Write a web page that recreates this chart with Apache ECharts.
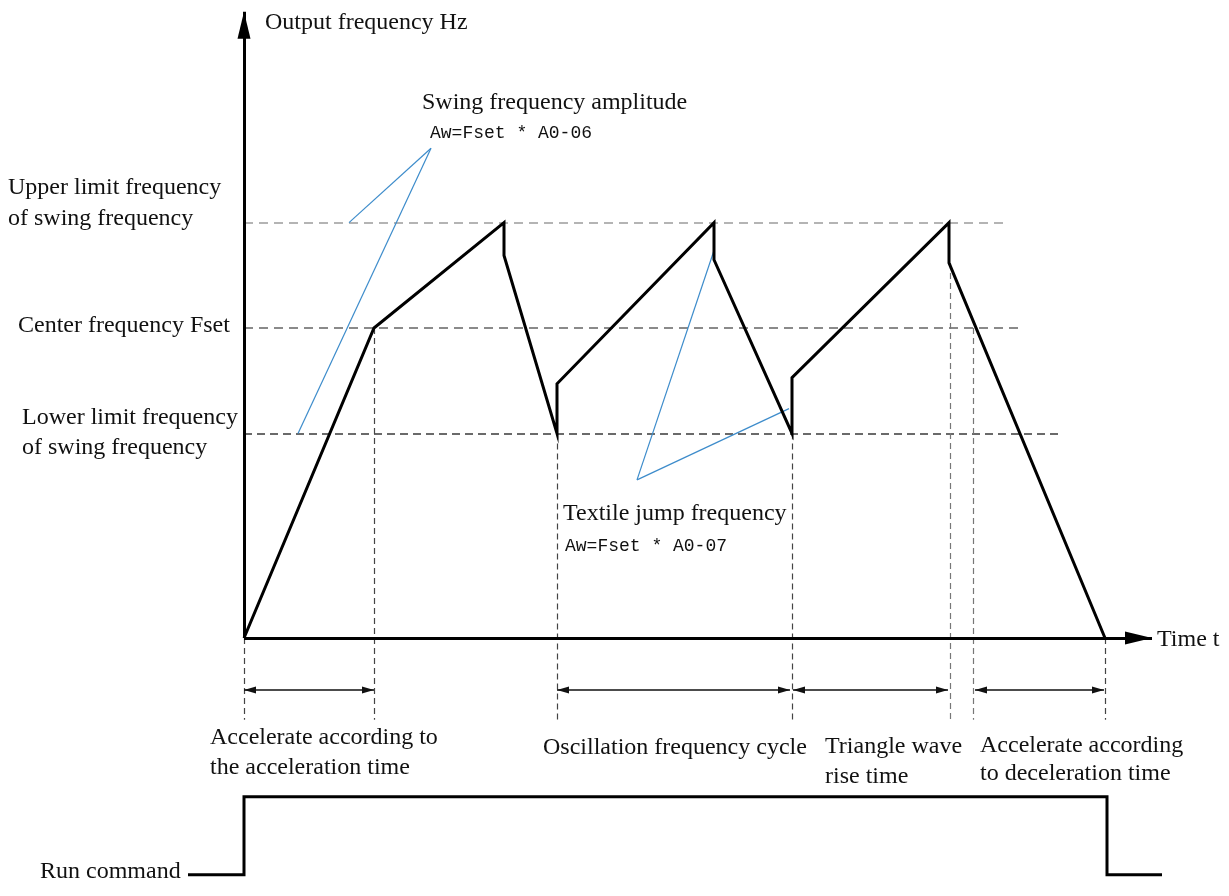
<!DOCTYPE html>
<html><head><meta charset="utf-8">
<script src="https://cdn.jsdelivr.net/npm/echarts@6/dist/echarts.min.js"></script>
<style>html,body{margin:0;padding:0;background:#fff}#c{width:1229px;height:896px}</style>
</head><body><div id="c"></div>
<script>
// ---- data (time units / frequency units) ----
const waveT = [0, 13, 26, 26, 31.3, 31.3, 47, 47, 54.8, 54.8, 70.5, 70.5, 86.1];
const waveF = [0, 50, 67, 61.7, 33, 41, 67, 61, 33, 42, 67, 60.5, 0];
const levelF = [67, 50, 33];
const levelEndT = [75.9, 77.7, 81.8];
const levelLabels = [['Upper limit frequency', 'of swing frequency'], ['Center frequency Fset'], ['Lower limit frequency', 'of swing frequency']];
const guideT = [0, 13, 31.3, 54.8, 70.6, 72.9, 86.1];
const guideTopF = [0, 50, 33, 33, 60.5, 50, 0];
const guideBottomF = -13.2;
const spanFromT = [0, 31.3, 54.9, 73.1];
const spanToT = [13, 54.6, 70.4, 86.0];
const spanF = -8.4;
const spanLabels = [['Accelerate according to', 'the acceleration time'], ['Oscillation frequency cycle'], ['Triangle wave', 'rise time'], ['Accelerate according', 'to deceleration time']];
const runT = [-5.6, 0, 0, 86.3, 86.3, 91.8];
const runF = [-38.2, -38.2, -25.6, -25.6, -38.2, -38.2];
const axisTipT = 90.8;
const axisTipF = 101;
const swingApex = [18.7, 79];
const swingTargets = [[10.5, 67], [5.4, 33]];
const jumpApex = [39.3, 25.5];
const jumpTargets = [[47, 62.5], [54.5, 37]];
const noteLabels = ['Swing frequency amplitude', 'Aw=Fset * A0-06', 'Textile jump frequency', 'Aw=Fset * A0-07'];
const axisLabels = ['Output frequency Hz', 'Time t', 'Run command'];

const chart = echarts.init(document.getElementById('c'), null, {renderer: 'canvas'});
const SERIF = '24px "Liberation Serif", "Times New Roman", serif';
const MONO = '18px "Liberation Mono", "DejaVu Sans Mono", monospace';
function txt(s, x, y, font) {
  return {type: 'text', x: x, y: y, silent: true,
    style: {text: s, font: font || SERIF, fill: '#111', verticalAlign: 'middle', align: 'left'}};
}
const baseML = {silent: true, animation: false, label: {show: false}, emphasis: {disabled: true}, symbol: ['none', 'none']};

const levelStyles = [
  {color: '#b4b4b4', width: 2, type: [9, 6]},
  {color: '#8a8a8a', width: 2, type: [9, 6]},
  {color: '#3a3a3a', width: 1.5, type: [8, 5]}
];
const guideStyles = ['#444', '#444', '#444', '#444', '#777', '#777', '#444'];

const option = {
  animation: false,
  backgroundColor: '#fff',
  grid: {left: 184, top: 5.6, width: 980, height: 880.4, containLabel: false},
  xAxis: {type: 'value', min: -6, max: 92, show: false},
  yAxis: {type: 'value', min: -40, max: 102, show: false},
  series: [
    {
      name: 'levels', type: 'line', data: [], clip: false, z: 1,
      markLine: Object.assign({}, baseML, {
        data: levelF.map((f, i) => [
          {coord: [0, f], lineStyle: levelStyles[i]},
          {coord: [levelEndT[i], f]}
        ])
      })
    },
    {
      name: 'guides', type: 'line', data: [], clip: false, z: 1,
      markLine: Object.assign({}, baseML, {
        data: guideT.map((t, i) => [
          {coord: [t, guideTopF[i]], lineStyle: {color: guideStyles[i], width: 1.2, type: [6, 4]}},
          {coord: [t, guideBottomF]}
        ])
      })
    },
    {
      name: 'axes', type: 'line', data: [], clip: false, z: 4,
      markLine: Object.assign({}, baseML, {
        lineStyle: {color: '#000', width: 3, type: 'solid'},
        data: [
          [{coord: [0, 0], symbol: 'none'}, {coord: [axisTipT, 0], symbol: 'triangle', symbolSize: [13, 27], symbolOffset: [0, 13.5]}],
          [{coord: [0, 0], symbol: 'none'}, {coord: [0, axisTipF], symbol: 'triangle', symbolSize: [13, 27], symbolOffset: [0, 13.5]}]
        ]
      })
    },
    {
      name: 'spans', type: 'line', data: [], clip: false, z: 3,
      markLine: Object.assign({}, baseML, {
        lineStyle: {color: '#111', width: 1.5, type: 'solid'},
        data: spanFromT.map((t, i) => [
          {coord: [t, spanF], symbol: 'triangle', symbolSize: [7, 12], symbolOffset: [0, 6]},
          {coord: [spanToT[i], spanF], symbol: 'triangle', symbolSize: [7, 12], symbolOffset: [0, 6]}
        ])
      })
    },
    {
      name: 'notes', type: 'line', data: [], clip: false, z: 2,
      markLine: Object.assign({}, baseML, {
        lineStyle: {color: '#3d8ccb', width: 1.2, type: 'solid'},
        data: swingTargets.map(p => [{coord: swingApex}, {coord: p}])
          .concat(jumpTargets.map(p => [{coord: jumpApex}, {coord: p}]))
      })
    },
    {
      name: 'Output frequency', type: 'line', clip: false, z: 5,
      symbol: 'none', silent: true,
      lineStyle: {color: '#000', width: 3, join: 'miter'},
      data: waveT.map((t, i) => [t, waveF[i]])
    },
    {
      name: 'Run command', type: 'line', clip: false, z: 5,
      symbol: 'none', silent: true,
      lineStyle: {color: '#000', width: 3, join: 'miter'},
      data: runT.map((t, i) => [t, runF[i]])
    }
  ],
  graphic: [
    txt(axisLabels[0], 265, 23),
    txt(noteLabels[0], 422, 103),
    txt(noteLabels[1], 430, 133, MONO),
    txt(levelLabels[0][0], 8, 188),
    txt(levelLabels[0][1], 8, 219),
    txt(levelLabels[1][0], 18, 326),
    txt(levelLabels[2][0], 22, 418),
    txt(levelLabels[2][1], 22, 448),
    txt(noteLabels[2], 563, 514),
    txt(noteLabels[3], 565, 546, MONO),
    txt(axisLabels[1], 1157, 640),
    txt(spanLabels[0][0], 210, 738),
    txt(spanLabels[0][1], 210, 768),
    txt(spanLabels[1][0], 543, 748),
    txt(spanLabels[2][0], 825, 747),
    txt(spanLabels[2][1], 825, 777),
    txt(spanLabels[3][0], 980, 746),
    txt(spanLabels[3][1], 980, 774),
    txt(axisLabels[2], 40, 872)
  ]
};
chart.setOption(option);
</script>
</body></html>
